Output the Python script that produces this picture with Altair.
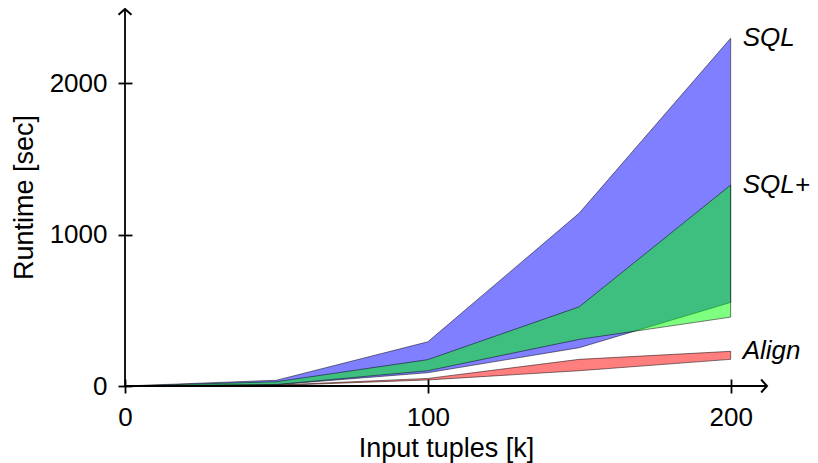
import altair as alt
import pandas as pd

# ---- data ----
x_vals = [0, 50, 100, 150, 200]
sql_hi = [0, 38, 292, 1142, 2297]
sql_lo = [0, 8, 88, 253, 552]
sqlp_hi = [0, 28, 174, 523, 1327]
sqlp_lo = [0, 10, 101, 308, 455]
align_hi = [0, 6, 50, 176, 229]
align_lo = [0, 3, 40, 101, 176]
series_names = ["SQL", "SQL+", "Align"]
series_colors = ["#0000ff", "#00ff00", "#ff0000"]
x_ticks = [0, 100, 200]
y_ticks = [0, 1000, 2000]
x_max = 212
y_max = 2490

FONT = "Liberation Sans"

lows = [sql_lo, sqlp_lo, align_lo]
highs = [sql_hi, sqlp_hi, align_hi]

rows = []
for name, lo, hi in zip(series_names, lows, highs):
    for xv, l, h in zip(x_vals, lo, hi):
        rows.append({"series": name, "x": xv, "lo": l, "hi": h})
df = pd.DataFrame(rows)

lbl = pd.DataFrame({"series": series_names,
                    "x": [x_vals[-1]] * 3,
                    "lo": [h[-1] for h in highs]})

axis_df = pd.DataFrame({"x": [0, 0], "x2": [x_max, 0], "lo": [0, 0], "y2": [0, y_max]})
arrow_df = pd.DataFrame({"x": [x_max, 0], "lo": [0, y_max], "ang": [90, 0]})

xscale = alt.Scale(domain=[0, x_max], nice=False, zero=False)
yscale = alt.Scale(domain=[0, y_max], nice=False, zero=False)

xaxis = alt.Axis(title="Input tuples [k]", values=x_ticks, format="d", domain=False, grid=False,
                 tickSize=14, tickWidth=1.8, tickColor="black", offset=-7,
                 labelFont=FONT, labelFontSize=26, labelColor="black",
                 labelBaseline="alphabetic", labelPadding=32, labelFlush=False,
                 titleFont=FONT, titleFontSize=27, titleFontWeight="normal", titleColor="black",
                 titleBaseline="alphabetic", titleY=77)
yaxis = alt.Axis(title="Runtime [sec]", values=y_ticks, format="d", domain=False, grid=False,
                 tickSize=14, tickWidth=1.8, tickColor="black", offset=-7,
                 labelFont=FONT, labelFontSize=26, labelColor="black",
                 labelBaseline="middle", labelPadding=11, labelFlush=False,
                 titleFont=FONT, titleFontSize=27, titleFontWeight="normal", titleColor="black",
                 titleAngle=-90, titleX=-100, titleY=188, titleBaseline="alphabetic", titleAlign="center")

X = alt.X("x:Q", scale=xscale, axis=xaxis)
Y = alt.Y("lo:Q", scale=yscale, axis=yaxis)

layers = []
for name, col in zip(series_names, series_colors):
    layers.append(
        alt.Chart(df).transform_filter(alt.datum.series == name)
        .mark_area(orient="vertical", fill=col, fillOpacity=0.5, stroke="black",
                   strokeOpacity=0.5, strokeWidth=1)
        .encode(x=X, y=Y, y2="hi:Q")
    )

labels = alt.Chart(lbl).mark_text(align="left", baseline="middle", dx=12, font=FONT,
                                  fontSize=26, fontStyle="italic", color="black").encode(
    x=X, y=Y, text="series:N")

axes = alt.Chart(axis_df).mark_rule(color="black", strokeWidth=1.8).encode(
    x=X, x2="x2:Q", y=Y, y2="y2:Q")

arrows = alt.Chart(arrow_df).mark_point(shape="M -1 0.9 L 0 0 L 1 0.9", size=169, filled=False,
                                        stroke="black", strokeWidth=2, opacity=1).encode(
    x=X, y=Y, angle=alt.Angle("ang:Q", scale=None))

chart = alt.layer(*layers, axes, arrows, labels).properties(
    width=642, height=377,
    autosize=alt.AutoSizeParams(type="none"),
    padding={"left": 117, "top": 1, "right": 43, "bottom": 77},
    background="white",
).configure_view(stroke=None)

chart.save("out.html", embed_options={"renderer": "svg", "actions": False})
